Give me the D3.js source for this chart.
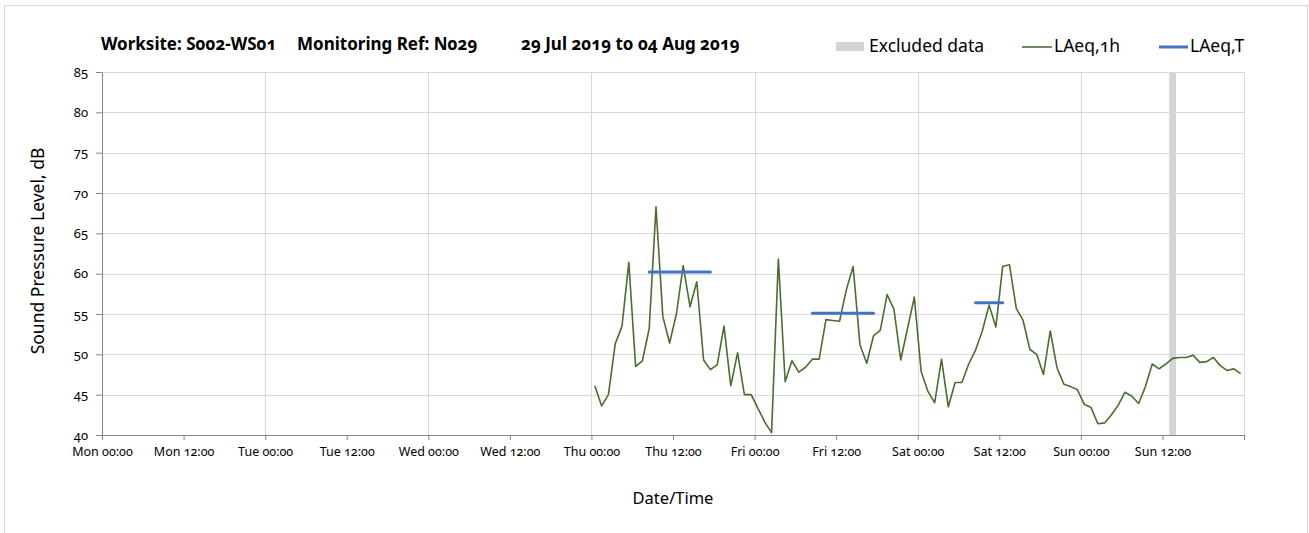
<!DOCTYPE html>
<html>
<head>
<meta charset="utf-8">
<script src="https://cdn.jsdelivr.net/npm/d3@7"></script>
<style>
  body { margin: 0; background: #fff; }
  svg text { font-family: "Noto Sans", Lato, sans-serif; font-variant-numeric: oldstyle-nums; font-feature-settings: "onum" 1; fill: #000; }
  .axis path, .axis line { stroke: #868686; }
  .grid line { stroke: #d9d9d9; }
</style>
</head>
<body>
<svg id="chart" width="1309" height="533"></svg>
<script>
// hourly LAeq,1h values (each plotted at the middle of its hour)
var thuValues = [46.1, 43.6, 45.0, 51.3, 53.5, 61.4, 48.5, 49.2, 53.2, 68.3, 54.7, 51.4,
                 55.0, 61.0, 55.9, 59.0, 49.3, 48.1, 48.7, 53.5, 46.1, 50.2, 45.0, 45.0];
var friValues = [43.3, 41.6, 40.3, 61.8, 46.6, 49.2, 47.8, 48.4, 49.4, 49.4, 54.3, 54.2,
                 54.1, 58.0, 60.9, 51.2, 48.9, 52.3, 53.0, 57.4, 55.6, 49.3, 53.2, 57.1];
var satValues = [47.9, 45.4, 44.0, 49.4, 43.5, 46.5, 46.5, 48.8, 50.5, 52.9, 56.1, 53.4,
                 60.9, 61.1, 55.7, 54.2, 50.6, 50.0, 47.5, 52.9, 48.3, 46.3, 46.0, 45.6];
var sunValues = [43.8, 43.4, 41.4, 41.5, 42.5, 43.7, 45.3, 44.8, 43.9, 46.0, 48.8, 48.2,
                 48.8, 49.5, 49.6, 49.6, 49.9, 49.0, 49.1, 49.6, 48.6, 48.0, 48.2, 47.6];
var dayStarts = ["2019-08-01", "2019-08-02", "2019-08-03", "2019-08-04"];

// LAeq,T over each assessment period
var periodStarts = ["2019-08-01 08:30", "2019-08-02 08:30", "2019-08-03 08:30"];
var periodEnds   = ["2019-08-01 17:30", "2019-08-02 17:30", "2019-08-03 12:30"];
var periodValues = [60.2, 55.1, 56.4];

// excluded data
var excludedStarts = ["2019-08-04 13:00"];
var excludedEnds   = ["2019-08-04 14:00"];

var yTicks = [40, 45, 50, 55, 60, 65, 70, 75, 80, 85];

var parseDay = d3.timeParse("%Y-%m-%d");
var parseTime = d3.timeParse("%Y-%m-%d %H:%M");

var hourly = [];
[thuValues, friValues, satValues, sunValues].forEach(function(vals, i) {
    var d0 = parseDay(dayStarts[i]);
    vals.forEach(function(v, h) {
        hourly.push({t: d3.timeMinute.offset(d0, h * 60 + 30), v: v});
    });
});

var svg = d3.select("#chart"),
    margin = {top: 72, right: 65, bottom: 98, left: 102},
    width = +svg.attr("width") - margin.left - margin.right,
    height = +svg.attr("height") - margin.top - margin.bottom;

// chart frame
svg.append("rect")
    .attr("x", 4.5).attr("y", 5.5)
    .attr("width", 1303).attr("height", 540)
    .attr("fill", "none").attr("stroke", "#d9d9d9");

var x = d3.scaleTime()
    .domain([parseDay("2019-07-29"), parseDay("2019-08-05")])
    .range([0, width]);

var y = d3.scaleLinear()
    .domain([40, 85])
    .range([height, 0]);

var g = svg.append("g")
    .attr("transform", "translate(" + margin.left + "," + margin.top + ")");

// gridlines
var grid = g.append("g").attr("class", "grid");
grid.selectAll(".hgrid")
    .data(yTicks.slice(1))
    .enter().append("line")
    .attr("x1", 0).attr("x2", width)
    .attr("y1", function(d) { return Math.round(y(d)) + 0.5; })
    .attr("y2", function(d) { return Math.round(y(d)) + 0.5; });
grid.selectAll(".vgrid")
    .data(d3.timeDay.range(d3.timeDay.offset(x.domain()[0], 1), d3.timeDay.offset(x.domain()[1], 1)))
    .enter().append("line")
    .attr("x1", function(d) { return Math.round(x(d)) + 0.5; })
    .attr("x2", function(d) { return Math.round(x(d)) + 0.5; })
    .attr("y1", 0).attr("y2", height);

// excluded data band
g.selectAll(".excluded")
    .data(excludedStarts)
    .enter().append("rect")
    .attr("class", "excluded")
    .attr("x", function(d) { return x(parseTime(d)); })
    .attr("width", function(d, i) { return x(parseTime(excludedEnds[i])) - x(parseTime(d)); })
    .attr("y", 0)
    .attr("height", height)
    .attr("fill", "#d4d4d4");

// axes
var xTicks = d3.timeHour.every(12).range(x.domain()[0], d3.timeHour.offset(x.domain()[1], 1));
var fmt = d3.timeFormat("%a %H:%M");

var xAxis = g.append("g")
    .attr("class", "axis")
    .attr("transform", "translate(0," + height + ")")
    .call(d3.axisBottom(x)
        .tickValues(xTicks)
        .tickSize(5)
        .tickSizeOuter(0)
        .tickPadding(7)
        .tickFormat(function(d, i) { return i === xTicks.length - 1 ? "" : fmt(d); }));
xAxis.selectAll("text").attr("font-size", "12.5px");

var yAxis = g.append("g")
    .attr("class", "axis")
    .call(d3.axisLeft(y)
        .tickValues(yTicks)
        .tickSize(6)
        .tickSizeOuter(0)
        .tickPadding(8));
yAxis.selectAll("text").attr("font-size", "13px");

// LAeq,1h line
var line = d3.line()
    .x(function(d) { return x(d.t); })
    .y(function(d) { return y(d.v); });

g.append("path")
    .datum(hourly)
    .attr("fill", "none")
    .attr("stroke", "#4a6f2c")
    .attr("stroke-width", 1.6)
    .attr("stroke-linejoin", "round")
    .attr("d", line);

// LAeq,T lines
g.selectAll(".laeqT")
    .data(periodValues)
    .enter().append("line")
    .attr("class", "laeqT")
    .attr("x1", function(d, i) { return x(parseTime(periodStarts[i])); })
    .attr("x2", function(d, i) { return x(parseTime(periodEnds[i])); })
    .attr("y1", function(d) { return y(d); })
    .attr("y2", function(d) { return y(d); })
    .attr("stroke", "#4472c4")
    .attr("stroke-width", 3)
    .attr("stroke-linecap", "round");

// axis titles
svg.append("text")
    .attr("transform", "translate(44,251) rotate(-90)")
    .attr("text-anchor", "middle")
    .attr("font-size", "17.5px")
    .text("Sound Pressure Level, dB");

svg.append("text")
    .attr("x", 673).attr("y", 504)
    .attr("text-anchor", "middle")
    .attr("font-size", "16.5px")
    .text("Date/Time");

// title
var titleParts = ["Worksite: S002-WS01", "Monitoring Ref: N029", "29 Jul 2019 to 04 Aug 2019"];
var titleX = [101, 297, 521];
svg.selectAll(".title")
    .data(titleParts)
    .enter().append("text")
    .attr("class", "title")
    .attr("x", function(d, i) { return titleX[i]; })
    .attr("y", 50)
    .attr("font-size", "17px")
    .attr("font-weight", "bold")
    .text(function(d) { return d; });

// legend
var legend = svg.append("g").attr("font-size", "17.5px");
legend.append("rect")
    .attr("x", 836).attr("y", 42).attr("width", 28).attr("height", 9)
    .attr("fill", "#d4d4d4");
legend.append("text").attr("x", 869).attr("y", 52).text("Excluded data");
legend.append("line")
    .attr("x1", 1022).attr("x2", 1052).attr("y1", 47).attr("y2", 47)
    .attr("stroke", "#4a6f2c").attr("stroke-width", 1.6);
legend.append("text").attr("x", 1054).attr("y", 52).text("LAeq,1h");
legend.append("line")
    .attr("x1", 1159).attr("x2", 1188).attr("y1", 47).attr("y2", 47)
    .attr("stroke", "#4472c4").attr("stroke-width", 3);
legend.append("text").attr("x", 1190).attr("y", 52).text("LAeq,T");
</script>
</body>
</html>
